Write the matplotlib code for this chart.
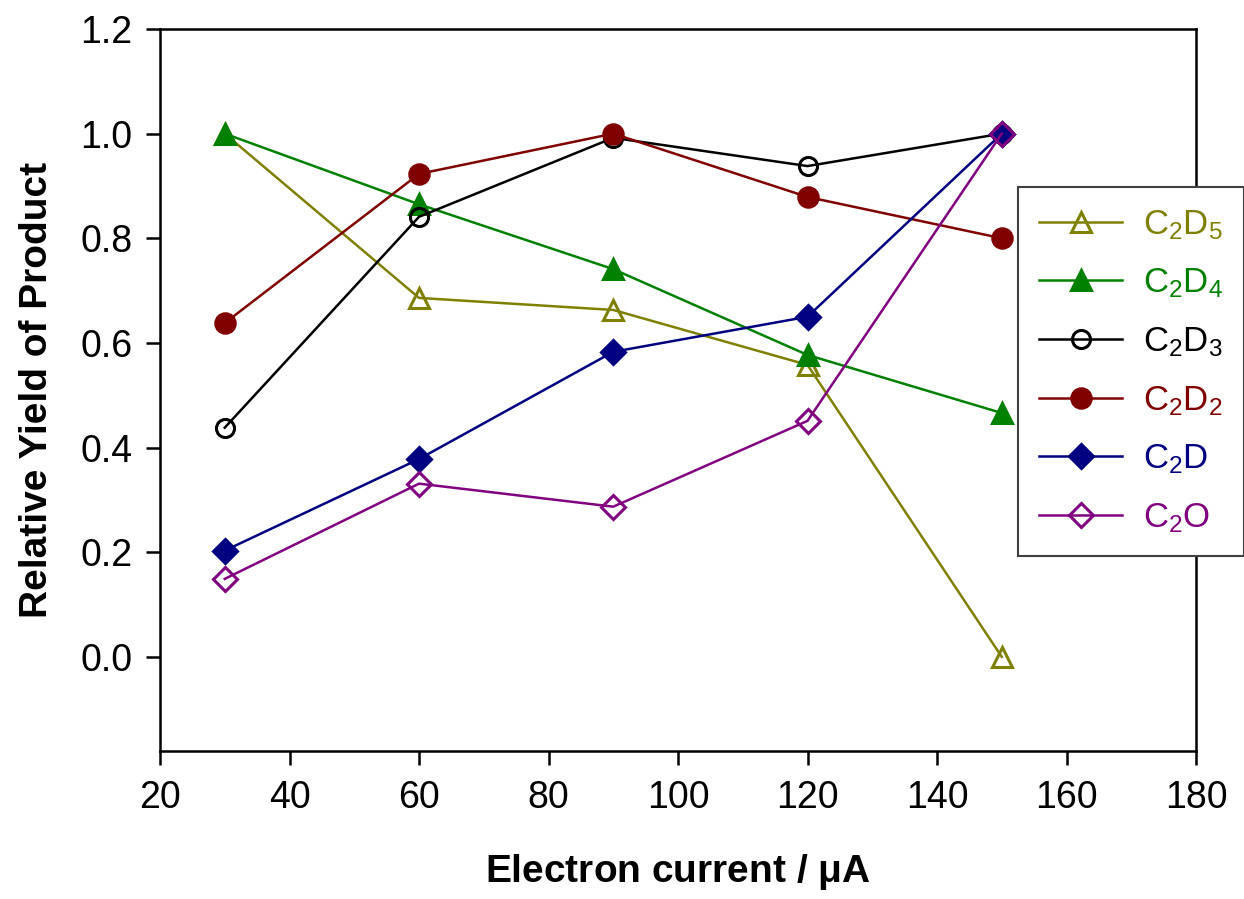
import matplotlib
matplotlib.use("Agg")
import matplotlib.pyplot as plt

plt.rcParams['font.family'] = ['Liberation Sans', 'DejaVu Sans']
plt.rcParams['mathtext.fontset'] = 'custom'
plt.rcParams['mathtext.rm'] = 'Liberation Sans'
plt.rcParams['mathtext.it'] = 'Liberation Sans:italic'
plt.rcParams['mathtext.bf'] = 'Liberation Sans:bold'

# Electron current (uA)
current = [30, 60, 90, 120, 150]

# Relative yields per product
c2d5 = [1.0, 0.686, 0.663, 0.558, 0.0]
c2d4 = [1.0, 0.865, 0.741, 0.577, 0.466]
c2d3 = [0.438, 0.841, 0.992, 0.938, 1.0]
c2d2 = [0.638, 0.923, 1.0, 0.879, 0.80]
c2d = [0.203, 0.378, 0.583, 0.650, 1.0]
c2o = [0.149, 0.331, 0.287, 0.451, 1.0]

labels = [r'C$_2$D$_5$', r'C$_2$D$_4$', r'C$_2$D$_3$', r'C$_2$D$_2$', r'C$_2$D', r'C$_2$O']
xticks = [20, 40, 60, 80, 100, 120, 140, 160, 180]
yticks = [0.0, 0.2, 0.4, 0.6, 0.8, 1.0, 1.2]

series = [c2d5, c2d4, c2d3, c2d2, c2d, c2o]
colors = ['#808000', '#008000', '#000000', '#800000', '#000080', '#800080']
markers = ['^', '^', 'o', 'o', 'D', 'D']
filled = [False, True, False, True, True, False]
msizes = [14, 14, 13, 14, 12, 12]

fig = plt.figure(figsize=(12.44, 8.99), dpi=100)
ax = fig.add_axes([160 / 1244, 1 - 751 / 899, 1036 / 1244, 722 / 899])

handles = []
for ys, col, mk, fl, ms, lab in zip(series, colors, markers, filled, msizes, labels):
    h, = ax.plot(current, ys, color=col, lw=1.8, marker=mk, ms=ms,
                 markerfacecolor=col if fl else 'none', markeredgecolor=col,
                 markeredgewidth=2.2, label=lab)
    handles.append(h)

ax.set_xlim(20, 180)
ax.set_ylim(-0.18, 1.2)
ax.set_xticks(xticks)
ax.set_yticks(yticks)
ax.set_yticklabels([f'{v:.1f}' for v in yticks])

for sp in ax.spines.values():
    sp.set_linewidth(1.8)
ax.tick_params(axis='both', direction='out', length=10, width=1.8,
               labelsize=27, top=False, right=False)
ax.tick_params(axis='x', pad=11)
ax.tick_params(axis='y', pad=10)

ax.set_xlabel(r'Electron current / $\mathbf{\mu}$A', fontsize=28, fontweight='bold', labelpad=26)
ax.set_ylabel('Relative Yield of Product', fontsize=28, fontweight='bold', labelpad=18)

leg = ax.legend(handles=handles, loc='upper left',
                bbox_to_anchor=(1018 / 1244, 1 - 187 / 899),
                bbox_transform=fig.transFigure, fontsize=25, frameon=True,
                fancybox=False, edgecolor='#404040', framealpha=1,
                borderpad=0.6, labelspacing=0.72, handlelength=2.4,
                handletextpad=0.6, borderaxespad=0)
leg.get_frame().set_linewidth(1.5)
for txt, col in zip(leg.get_texts(), colors):
    txt.set_color(col)

fig.savefig('out.png', dpi=100)
